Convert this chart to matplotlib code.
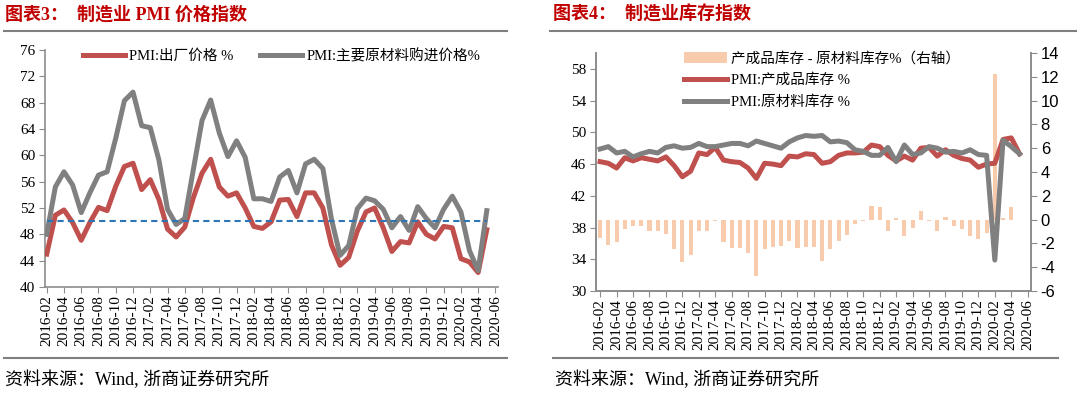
import matplotlib
matplotlib.use('Agg')
import matplotlib.pyplot as plt
import numpy as np
import pandas as pd
from matplotlib.lines import Line2D
from matplotlib.patches import Patch

plt.rcParams['font.family'] = ['Liberation Serif', 'Noto Sans CJK SC']
plt.rcParams['axes.unicode_minus'] = False

# ---------------- data ----------------
months = [p.strftime('%Y-%m') for p in pd.period_range('2016-02', '2020-06', freq='M')]
tick_labels = months[::2]

# Chart 3: PMI price indices (2016-02 .. 2020-05)
pmi_output_price = [45.0, 50.9, 51.7, 49.8, 47.1, 49.8, 52.1, 51.6, 55.3, 58.3, 58.8,
                    54.8, 56.3, 53.3, 48.8, 47.6, 49.1, 53.6, 57.3, 59.4, 55.2, 53.8, 54.3,
                    52.0, 49.2, 48.9, 49.9, 53.2, 53.3, 50.7, 54.3, 54.3, 52.0, 46.4, 43.3,
                    44.5, 48.5, 51.4, 52.0, 49.0, 45.4, 46.9, 46.7, 49.9, 48.0, 47.3, 49.2,
                    49.0, 44.3, 43.8, 42.2, 48.7]
pmi_input_price = [48.0, 55.2, 57.5, 55.5, 51.3, 54.3, 57.0, 57.5, 62.6, 68.3, 69.6,
                   64.5, 64.2, 59.3, 51.8, 49.5, 50.4, 57.9, 65.3, 68.4, 63.4, 59.8, 62.2,
                   59.7, 53.4, 53.4, 53.0, 56.7, 57.7, 54.3, 58.7, 59.4, 58.0, 50.3, 44.8,
                   46.3, 51.9, 53.5, 53.1, 51.8, 49.0, 50.7, 48.6, 52.2, 50.4, 49.0, 51.8,
                   53.8, 51.4, 45.5, 42.5, 51.6]
threshold = 50

# Chart 4: PMI inventories (2016-02 .. 2020-05)
pmi_finished_inv = [46.3, 46.1, 45.5, 46.8, 46.4, 46.8, 46.6, 46.4, 46.9, 45.8, 44.4,
                    45.1, 47.4, 47.2, 48.1, 46.5, 46.3, 46.2, 45.5, 44.2, 46.1, 46.0, 45.8,
                    47.0, 46.9, 47.3, 47.2, 46.1, 46.3, 47.1, 47.4, 47.4, 47.5, 48.4, 48.2,
                    47.1, 46.4, 47.0, 46.5, 48.0, 48.1, 47.0, 47.8, 47.1, 46.7, 46.5, 45.6,
                    46.0, 46.1, 49.1, 49.3, 47.3]
pmi_raw_inv = [47.9, 48.2, 47.4, 47.6, 46.9, 47.3, 47.6, 47.4, 48.1, 48.3, 48.0,
               48.1, 48.6, 48.2, 48.2, 48.4, 48.6, 48.6, 48.3, 48.9, 48.6, 48.3, 48.0,
               48.8, 49.3, 49.6, 49.5, 49.6, 48.8, 48.9, 48.7, 47.8, 47.6, 47.1, 47.1,
               48.1, 46.3, 48.4, 47.2, 47.4, 48.2, 48.0, 47.5, 47.6, 47.4, 47.8, 47.2,
               47.1, 33.9, 49.0, 48.2, 47.3]
inv_diff = [-1.56, -2.15, -1.9, -0.8, -0.53, -0.53, -1.0, -1.0, -1.22, -2.49, -3.6,
            -2.98, -1.0, -1.0, -0.1, -1.9, -2.35, -2.4, -2.8, -4.7, -2.45, -2.3, -2.2,
            -1.8, -2.4, -2.3, -2.3, -3.5, -2.5, -1.8, -1.3, -0.4, -0.1, 1.15, 1.07,
            -1.0, 0.1, -1.4, -0.7, 0.7, -0.15, -1.0, 0.25, -0.55, -0.75, -1.4, -1.6,
            -1.15, 12.2, 0.1, 1.1, 0.0]

# ---------------- style ----------------
RED = '#C0504D'
GRAY = '#808080'
PEACH = '#F8CBAD'
BLUE = '#2E75B6'
TITLE_RED = '#C00000'
AX_GRAY = '#8C8C8C'
W, H = 1080, 397

fig = plt.figure(figsize=(W / 100, H / 100), dpi=100)


def px_axes(x0, y0, x1, y1):
    return fig.add_axes([x0 / W, 1 - y1 / H, (x1 - x0) / W, (y1 - y0) / H])


def hline(x0, x1, y, color='#7F7F7F', lw=1.5):
    fig.add_artist(Line2D([x0 / W, x1 / W], [1 - y / H, 1 - y / H], color=color, lw=lw))


tick_pos = np.arange(len(months))[::2]
x = np.arange(len(pmi_output_price))

# ---------------- chart 3 ----------------
ax1 = px_axes(45, 50, 498, 287)
ax1.plot(x, pmi_output_price, color=RED, lw=3.6, solid_joinstyle='round', zorder=3,
         label='PMI:出厂价格 %')
ax1.plot(x, pmi_input_price, color=GRAY, lw=3.6, solid_joinstyle='round', zorder=4,
         label='PMI:主要原材料购进价格%')
ax1.hlines(threshold, x[0], x[-1], colors=BLUE, linestyles=(0, (3, 2)), lw=1.5, zorder=5)
ax1.set_xlim(-0.2, 52.3)
ax1.set_ylim(40, 76)
ax1.set_yticks(np.arange(40, 77, 4))
ax1.set_xticks(tick_pos)
ax1.set_xticklabels(tick_labels, rotation=90, fontsize=11)
ax1.tick_params(axis='y', labelsize=11, length=4, color=AX_GRAY, pad=3)
ax1.tick_params(axis='x', length=4, color=AX_GRAY, pad=2)
for s in ['top', 'right']:
    ax1.spines[s].set_visible(False)
for s in ['left', 'bottom']:
    ax1.spines[s].set_color(AX_GRAY)
    ax1.spines[s].set_linewidth(1.2)
ax1.legend(loc='upper left', bbox_to_anchor=(0.07, 1.03), ncol=2, frameon=False,
           fontsize=10.5, handlelength=2.9, handletextpad=0.3, columnspacing=1.8,
           borderaxespad=0)

# ---------------- chart 4 ----------------
ax2 = px_axes(596, 53, 1031, 291)
ax2r = ax2.twinx()
ax2r.bar(x, inv_diff, width=0.5, color=PEACH, zorder=2,
         label='产成品库存 - 原材料库存%（右轴）')
ax2.plot(x, pmi_finished_inv, color=RED, lw=3.6, solid_joinstyle='round', zorder=3,
         label='PMI:产成品库存 %')
ax2.plot(x, pmi_raw_inv, color=GRAY, lw=3.6, solid_joinstyle='round', zorder=4,
         label='PMI:原材料库存 %')
ax2.set_zorder(ax2r.get_zorder() + 1)
ax2.patch.set_visible(False)
ax2.set_xlim(-0.5, 52.4)
ax2.set_ylim(30, 60)
ax2.set_yticks(np.arange(30, 59, 4))
ax2r.set_ylim(-6, 14)
ax2r.set_yticks(np.arange(-6, 15, 2))
ax2.set_xticks(tick_pos)
ax2.set_xticklabels(tick_labels, rotation=90, fontsize=11)
ax2.tick_params(axis='y', labelsize=11, length=4, color=AX_GRAY, pad=3)
ax2.tick_params(axis='x', length=4, color=AX_GRAY, pad=2)
ax2r.tick_params(axis='y', length=4, color=AX_GRAY, pad=3)
for lab in ax2r.get_yticklabels():
    lab.set_fontfamily(['Liberation Sans', 'DejaVu Sans'])
    lab.set_fontsize(12)
for a in (ax2, ax2r):
    a.spines['top'].set_visible(False)
    for s in ['left', 'bottom', 'right']:
        a.spines[s].set_color(AX_GRAY)
        a.spines[s].set_linewidth(1.2)

h_bar, l_bar = ax2r.get_legend_handles_labels()
h_ln, l_ln = ax2.get_legend_handles_labels()
leg = ax2.legend(h_bar + h_ln, l_bar + l_ln, loc='upper left', bbox_to_anchor=(0.19, 1.03),
                 frameon=False, fontsize=10.5, handlelength=2.9, handletextpad=0.3,
                 labelspacing=0.55, borderaxespad=0)

# ---------------- titles / notes ----------------
title_font = ['Liberation Serif', 'Noto Sans CJK SC']
fig.text(5 / W, 1 - 15 / H, '图表3：  制造业 PMI 价格指数', color=TITLE_RED, fontsize=13,
         fontweight='bold', va='center', ha='left', family=title_font)
fig.text(553 / W, 1 - 15 / H, '图表4：  制造业库存指数', color=TITLE_RED, fontsize=13,
         fontweight='bold', va='center', ha='left', family=title_font)
hline(4, 507, 31)
hline(550, 1076, 31)
hline(4, 507, 358)
hline(553, 1058, 358)
fig.text(5 / W, 1 - 380 / H, '资料来源：Wind, 浙商证券研究所', fontsize=13, va='center',
         ha='left', family=title_font)
fig.text(555 / W, 1 - 380 / H, '资料来源：Wind, 浙商证券研究所', fontsize=13, va='center',
         ha='left', family=title_font)

fig.savefig('out.png', dpi=100)
